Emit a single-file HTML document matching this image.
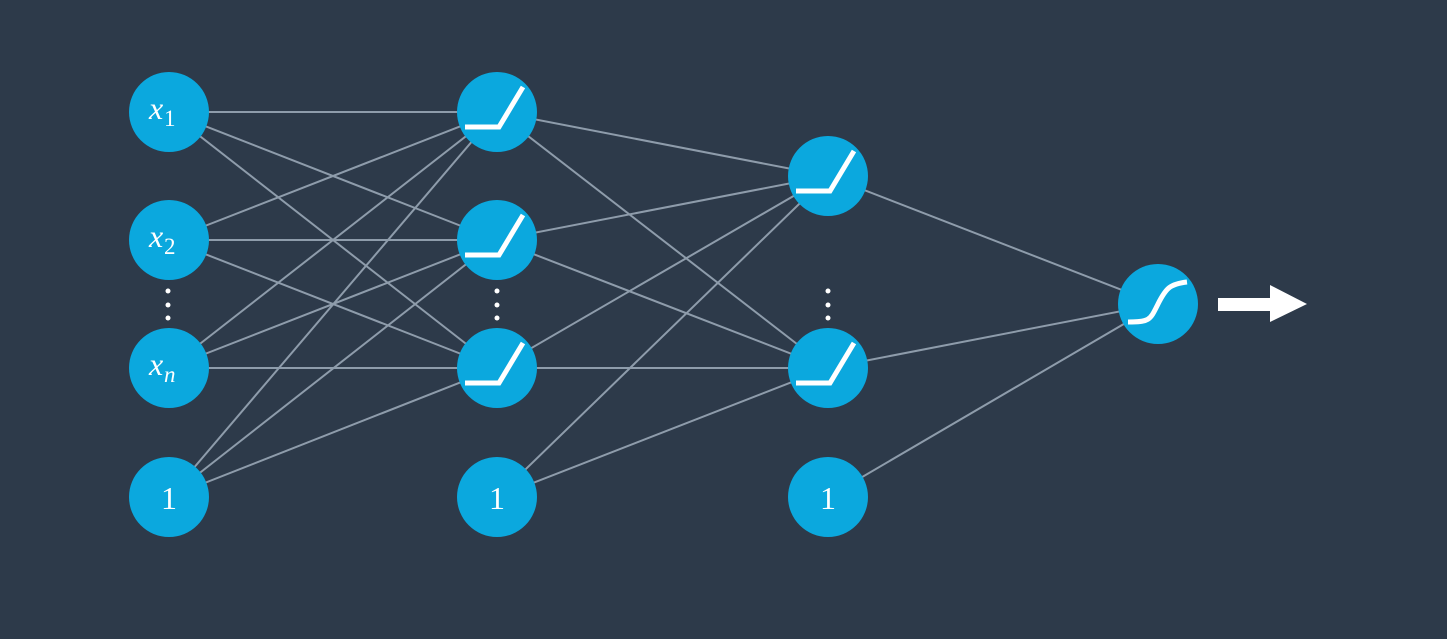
<!DOCTYPE html>
<html><head><meta charset="utf-8"><style>
html,body{margin:0;padding:0;background:#2d3a4a;}
svg{display:block}
</style></head><body>
<svg width="1447" height="639" viewBox="0 0 1447 639" xmlns="http://www.w3.org/2000/svg">
<rect width="1447" height="639" fill="#2d3a4a"/>
<g stroke="#8e9cab" stroke-width="2">
<line x1="169" y1="112" x2="497" y2="112"/><line x1="169" y1="112" x2="497" y2="240"/><line x1="169" y1="112" x2="497" y2="368"/>
<line x1="169" y1="240" x2="497" y2="112"/><line x1="169" y1="240" x2="497" y2="240"/><line x1="169" y1="240" x2="497" y2="368"/>
<line x1="169" y1="368" x2="497" y2="112"/><line x1="169" y1="368" x2="497" y2="240"/><line x1="169" y1="368" x2="497" y2="368"/>
<line x1="169" y1="497" x2="497" y2="112"/><line x1="169" y1="497" x2="497" y2="240"/><line x1="169" y1="497" x2="497" y2="368"/>
<line x1="497" y1="112" x2="828" y2="176"/><line x1="497" y1="112" x2="828" y2="368"/>
<line x1="497" y1="240" x2="828" y2="176"/><line x1="497" y1="240" x2="828" y2="368"/>
<line x1="497" y1="368" x2="828" y2="176"/><line x1="497" y1="368" x2="828" y2="368"/>
<line x1="497" y1="497" x2="828" y2="176"/><line x1="497" y1="497" x2="828" y2="368"/>
<line x1="828" y1="176" x2="1158" y2="304"/><line x1="828" y1="368" x2="1158" y2="304"/><line x1="828" y1="497" x2="1158" y2="304"/>
</g>
<g fill="#0ba8de">
<circle cx="169" cy="112" r="40"/><circle cx="169" cy="240" r="40"/><circle cx="169" cy="368" r="40"/><circle cx="169" cy="497" r="40"/>
<circle cx="497" cy="112" r="40"/><circle cx="497" cy="240" r="40"/><circle cx="497" cy="368" r="40"/><circle cx="497" cy="497" r="40"/>
<circle cx="828" cy="176" r="40"/><circle cx="828" cy="368" r="40"/><circle cx="828" cy="497" r="40"/>
<circle cx="1158" cy="304" r="40"/>
</g>
<g fill="#fff">
<circle cx="168" cy="291" r="2.5"/><circle cx="168" cy="305" r="2.5"/><circle cx="168" cy="318" r="2.5"/>
<circle cx="497" cy="291" r="2.5"/><circle cx="497" cy="305" r="2.5"/><circle cx="497" cy="318" r="2.5"/>
<circle cx="828" cy="291" r="2.5"/><circle cx="828" cy="305" r="2.5"/><circle cx="828" cy="318" r="2.5"/>
</g>
<g fill="none" stroke="#fff" stroke-width="5">
<polyline points="465,127 499,127 523,87"/>
<polyline points="465,255 499,255 523,215"/>
<polyline points="465,383 499,383 523,343"/>
<polyline points="796,191 830,191 854,151"/>
<polyline points="796,383 830,383 854,343"/>
<path d="M1128,322 C1150,322 1150,320 1158,304 C1166,288 1170,284 1187,282"/>
</g>
<g fill="#fff">
<rect x="1218" y="298" width="54" height="13"/>
<polygon points="1270,285 1307,304 1270,322"/>
</g>
<g fill="#fff" font-family="'Liberation Serif',serif">
<text x="149" y="119" font-size="32" font-style="italic">x</text><text x="164" y="126" font-size="23">1</text>
<text x="149" y="247" font-size="32" font-style="italic">x</text><text x="164" y="254" font-size="23">2</text>
<text x="149" y="375" font-size="32" font-style="italic">x</text><text x="164" y="382" font-size="23" font-style="italic">n</text>
<text x="169" y="509" font-size="32" text-anchor="middle">1</text>
<text x="497" y="509" font-size="32" text-anchor="middle">1</text>
<text x="828" y="509" font-size="32" text-anchor="middle">1</text>
</g>
</svg>
</body></html>
